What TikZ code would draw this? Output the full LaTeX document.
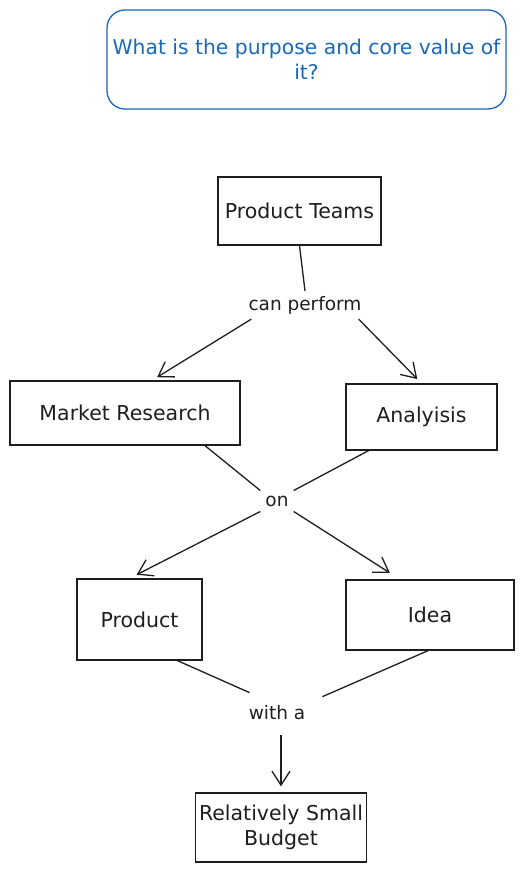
\documentclass[tikz,border=0pt]{standalone}
\usepackage{fontspec}
\setmainfont{DejaVu Sans}
\usetikzlibrary{arrows.meta}
\definecolor{qblue}{RGB}{25,105,185}
\definecolor{ink}{RGB}{30,30,30}
\tikzset{
  box/.style={draw=ink, line width=1.3pt, inner sep=0pt, align=center, text=ink,
    font=\fontsize{20.5}{25}\selectfont},
  qbox/.style={draw=qblue, line width=1.3pt, rounded corners=18pt, align=center, text=qblue,
    font=\fontsize{20.3}{25}\selectfont, minimum width=399pt, minimum height=99pt},
  lbl/.style={inner sep=5pt, text=ink, font=\fontsize{18.5}{25}\selectfont},
  conn/.style={draw=ink, line width=1.3pt},
  arr/.style={conn, -{Straight Barb[length=14pt,width=18pt,line width=1.3pt]}},
}
\begin{document}
\begin{tikzpicture}[x=1pt,y=-1pt]
\useasboundingbox (0,0) rectangle (532,872);
\node[qbox] (q) at (306.5,59.5) {What is the purpose and core value of\\it?};
\node[box, minimum width=163pt, minimum height=68pt] (pt) at (299.5,211) {Product Teams};
\node[box, minimum width=230pt, minimum height=64pt] (mr) at (125,413) {Market Research};
\node[box, minimum width=151pt, minimum height=66pt] (an) at (421.5,417) {Analyisis};
\node[box, minimum width=125pt, minimum height=81pt] (pr) at (139.5,619.5) {Product};
\node[box, minimum width=168pt, minimum height=70pt] (id) at (430,615) {Idea};
\node[box, minimum width=171pt, minimum height=69pt] (bu) at (281,827.5) {Relatively Small\\Budget};
\node[lbl] (cp) at (305,305) {can perform};
\node[lbl] (on) at (277,501) {on};
\node[lbl] (wa) at (277,713) {with a};
% connectors
\draw[conn] (pt.south) -- (cp.north);
\draw[arr, shorten >=6pt] ([xshift=8pt]cp.south west) -- ([xshift=27pt]mr.north);
\draw[arr, shorten >=6pt] ([xshift=-8pt]cp.south east) -- (an.north);
\draw[conn] ([xshift=80pt]mr.south) -- (on.north west);
\draw[conn] ([xshift=-53pt]an.south) -- (on.north east);
\draw[arr, shorten >=8pt] (on.south west) -- ([xshift=-10pt]pr.north);
\draw[arr, shorten >=12pt] (on.south east) -- ([xshift=-30pt]id.north);
\draw[conn] ([xshift=38pt]pr.south) -- ([shift={(6pt,8pt)}]wa.north west);
\draw[conn] ([xshift=-2pt]id.south) -- ([shift={(12pt,4pt)}]wa.north east);
\draw[arr, shorten <=10pt, shorten >=6pt] (wa.south -| bu.north) -- (bu.north);
\end{tikzpicture}
\end{document}
